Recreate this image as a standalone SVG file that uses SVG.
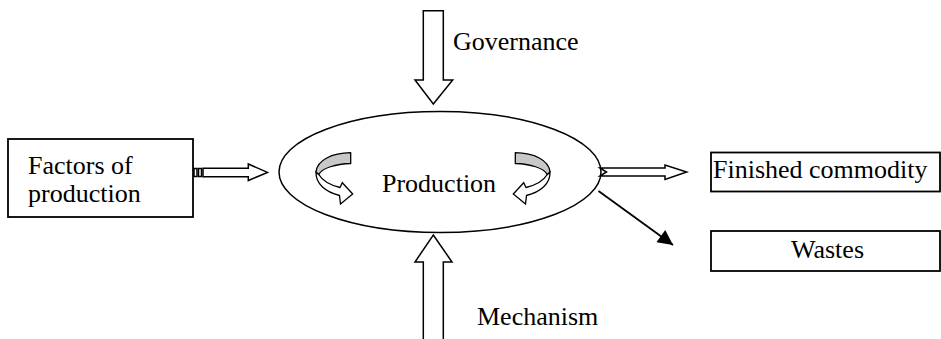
<svg xmlns="http://www.w3.org/2000/svg" xmlns:xlink="http://www.w3.org/1999/xlink" width="941" height="339" viewBox="0 0 941 339">
<style>
  .box { fill: #fff; stroke: #000; stroke-width: 1.8; }
  .blk { fill: #fff; stroke: #000; stroke-width: 1.5; stroke-linejoin: miter; }
  .lbl { font-family: "Liberation Serif", "Times New Roman", serif; font-size: 26px; fill: #000; }
  .band { fill: #c8c8c8; stroke: #000; stroke-width: 1.3; stroke-linejoin: round; }
  .rib { fill: #fff; stroke: #000; stroke-width: 1.3; stroke-linejoin: miter; }
</style>
<defs>
  <marker id="solid" viewBox="0 0 10 10" refX="10" refY="5" markerWidth="19" markerHeight="15" markerUnits="userSpaceOnUse" orient="auto">
    <path d="M0,0 L10,5 L0,10 Z" fill="#000"/>
  </marker>
  <g id="curl">
    <path class="rib" d="M316,172 C315.5,184 326,192 339.5,195.5 L340.5,204 L352.7,194 L342.3,182.7 L340,187.5 C330,185 322,180 318.8,174.5 Z"/>
    <path class="band" d="M350.7,152.7 L350.7,163.5 C336,164 322,168 318.8,174.5 L316,172 C317,160 332,153 350.7,152.7 Z"/>
  </g>
</defs>
<rect width="941" height="339" fill="#fff"/>

<g id="factors">
  <rect class="box" x="8" y="139" width="185" height="78"/>
  <text class="lbl" x="28" y="174">Factors of</text>
  <text class="lbl" x="28" y="202">production</text>
</g>

<g id="production">
  <ellipse cx="440" cy="172" rx="161" ry="60.5" fill="#fff" stroke="#000" stroke-width="1.5"/>
  <use xlink:href="#curl"/>
  <use xlink:href="#curl" transform="translate(866,0) scale(-1,1)"/>
  <text class="lbl" x="382" y="192">Production</text>
</g>

<g id="governance">
  <text class="lbl" x="453" y="50">Governance</text>
</g>

<g id="mechanism">
  <text class="lbl" x="477" y="325">Mechanism</text>
</g>

<g id="finished">
  <rect class="box" x="711" y="152.5" width="229" height="39"/>
  <text class="lbl" x="713" y="178">Finished commodity</text>
</g>

<g id="wastes">
  <rect class="box" x="711" y="231" width="229" height="40"/>
  <text class="lbl" x="791" y="258">Wastes</text>
</g>

<g id="connectors">
  <polygon class="blk" points="423.3,10.7 443.3,10.7 443.3,80 452.7,80 433.3,104 415,80 423.3,80"/>
  <polygon class="blk" points="433.3,235 452,262 443.3,262 443.3,345 423.3,345 423.3,262 415,262"/>
  <rect class="blk" x="194" y="168.5" width="3" height="8" stroke-width="1.2"/>
  <rect class="blk" x="198.5" y="168.5" width="3" height="8" stroke-width="1.2"/>
  <polygon class="blk" points="203,168.3 248.3,168.3 248.3,164 267.5,172.4 248.3,180.5 248.3,176.7 203,176.7"/>
  <polygon class="blk" points="600,168 665,168 665,165 686.7,172 665,179.5 665,176 600,176 606.5,172"/>
  <line x1="598.5" y1="191" x2="673" y2="245" stroke="#000" stroke-width="1.8" marker-end="url(#solid)"/>
</g>
</svg>
